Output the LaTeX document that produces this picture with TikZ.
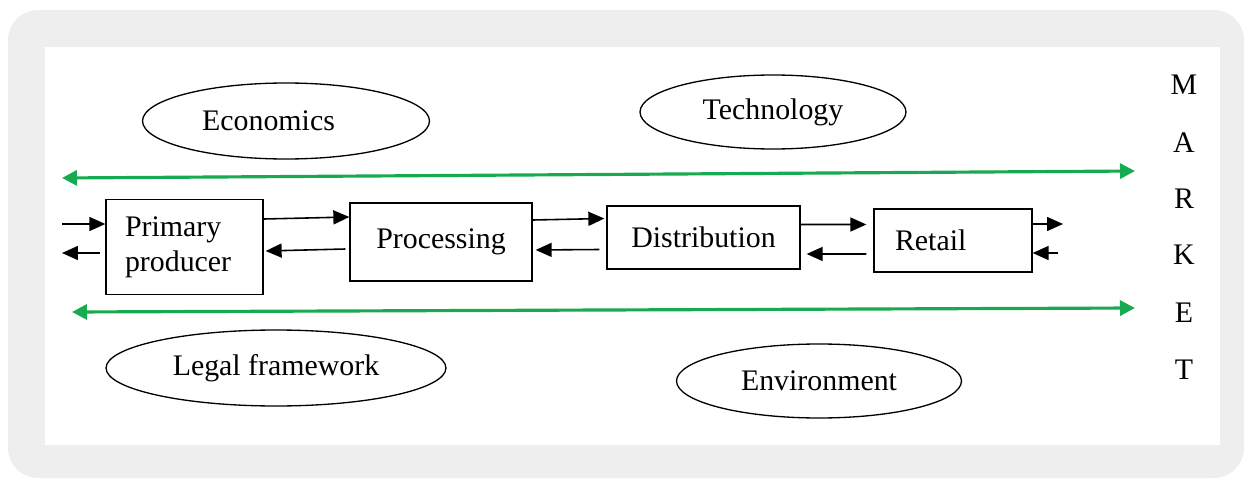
\documentclass[tikz,border=0pt]{standalone}
\usepackage{fontspec}
\usepackage{xcolor}
\usetikzlibrary{shapes.geometric,arrows.meta}
\setmainfont{Liberation Serif}
\definecolor{framegray}{RGB}{238,238,238}
\definecolor{arrowgreen}{RGB}{24,170,80}

\tikzset{
  stagebox/.style={draw, line width=0.75pt, minimum height=#1, inner sep=0pt},
  factor/.style={draw, line width=0.75pt, ellipse, inner sep=0pt},
  flow/.style={-{Triangle[length=0.32cm,width=0.28cm]}, line width=0.9pt},
  market/.style={line width=1.8pt, arrowgreen, {Triangle[length=0.3cm,width=0.3cm]}-{Triangle[length=0.3cm,width=0.3cm]}},
  letter/.style={inner sep=0pt}
}

\begin{document}
\begin{tikzpicture}[x=0.02cm,y=-0.02cm,font=\fontsize{17}{20}\selectfont]
					\useasboundingbox (0,0) rectangle (1252,480);
					% Frame
					\fill[framegray, rounded corners=0.6cm] (8,10) rectangle (1244,478);
					\fill[white] (45,47) rectangle (1220,445);
					
					% Outside factors
					\node[factor, minimum width=5.74cm, minimum height=1.52cm] (econ) at (286,121) {Economics\kern0.7cm};
					\node[factor, minimum width=5.32cm, minimum height=1.48cm] (tech) at (773,112) {Technology};
					\node[factor, minimum width=6.8cm, minimum height=1.52cm] (legal) at (276,368) {Legal framework};
					\node[factor, minimum width=5.7cm, minimum height=1.48cm] (env) at (819,381) {Environment};
					
					% Market borders
					\coordinate (tl) at (62,178);
					\coordinate (tr) at (1135,171);
					\coordinate (bl) at (72,312);
					\coordinate (br) at (1135,308);
					\draw[market] (tl) -- (tr);
					\draw[market] (bl) -- (br);
					
					% Chain
					\node[stagebox=1.9cm, minimum width=3.14cm, inner xsep=0.38cm, text width=2.38cm, align=left] (prim) at (184.5,247) {Primary\\producer};
					\node[stagebox=1.56cm, minimum width=3.64cm] (proc) at (441,242) {Processing};
					\node[stagebox=1.26cm, minimum width=3.86cm] (dist) at (703.5,237.5) {Distribution};
					\node[stagebox=1.26cm, minimum width=3.16cm, inner xsep=0.42cm, text width=2.32cm, align=left] (ret) at (953,240.5) {Retail};
					
					% Flows in and out
					\coordinate (inL) at (62,224);
					\coordinate (outL) at (62,253);
					\coordinate (outR) at (1063,224);
					\coordinate (inR) at (1058,253);
					\draw[flow] (inL) -- (inL -| prim.west);
					\draw[flow] ([xshift=-0.1cm]outL -| prim.west) -- (outL);
					\draw[flow] (outR -| ret.east) -- (outR);
					\draw[flow] (inR) -- (inR -| ret.east);
					
					% Flows between stages
					\draw[flow] ([yshift=0.56cm]prim.east) -- ([yshift=0.5cm]proc.west);
					\draw[flow] ([yshift=-0.14cm,xshift=-0.08cm]proc.west) -- ([yshift=-0.08cm,xshift=0.04cm]prim.east);
					\draw[flow] ([yshift=0.44cm]proc.east) -- ([yshift=0.38cm,xshift=-0.04cm]dist.west);
					\draw[flow] ([yshift=-0.24cm,xshift=-0.14cm]dist.west) -- ([yshift=-0.16cm,xshift=0.06cm]proc.east);
					\draw[flow] ([yshift=0.26cm]dist.east) -- ([yshift=0.32cm,xshift=-0.14cm]ret.west);
					\draw[flow] ([yshift=-0.27cm,xshift=-0.14cm]ret.west) -- ([yshift=-0.33cm,xshift=0.12cm]dist.east);
					
					% Market
					\node[letter] (m1) at (1184,85) {M};
					\node[letter] (m2) at (1184,143) {A};
					\node[letter] (m3) at (1184,199) {R};
					\node[letter] (m4) at (1184,255) {K};
					\node[letter] (m5) at (1184,313) {E};
					\node[letter] (m6) at (1184,370) {T};
				\end{tikzpicture}
\end{document}
